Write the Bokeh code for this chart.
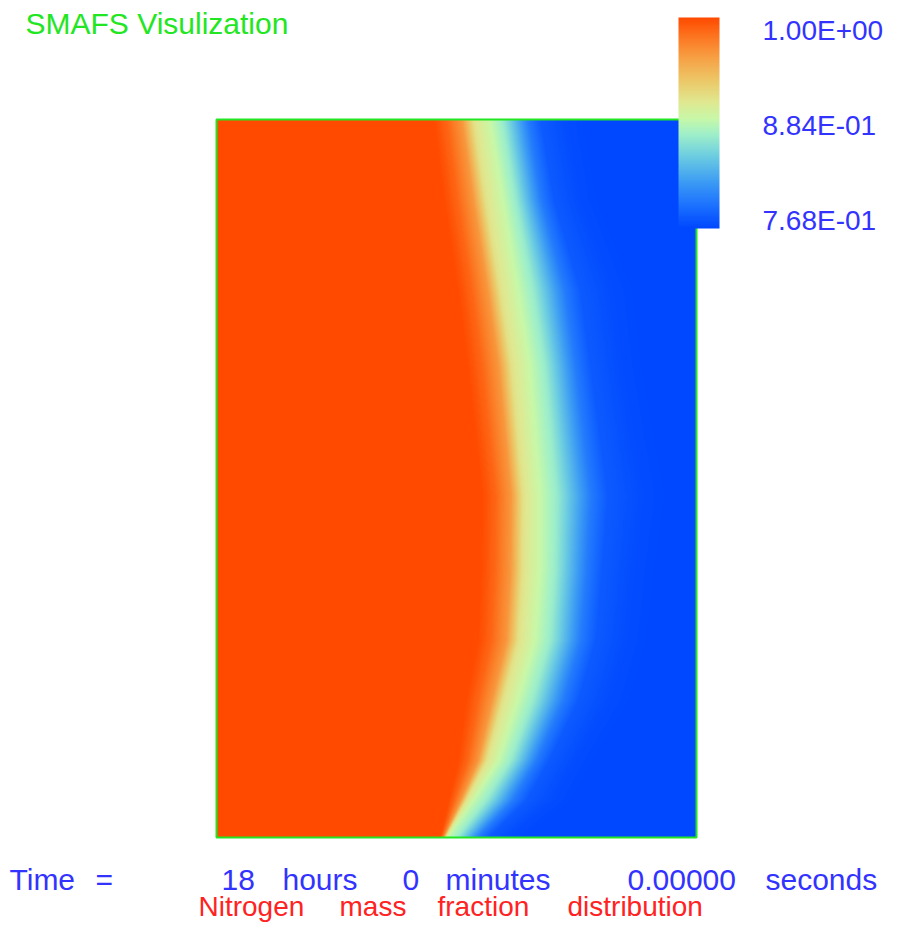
import numpy as np
from bokeh.plotting import figure
from bokeh.models import LinearColorMapper, Range1d
from bokeh.core.properties import value
from bokeh.embed import file_html
from bokeh.resources import INLINE

# ---------------- data ----------------
# domain: radius 0..1 (x), height 0..1.5 (y)
front_y = [0.000, 0.077, 0.161, 0.286, 0.412, 0.558, 0.714, 0.986, 1.143, 1.331, 1.500]
front_x = [0.481, 0.535, 0.588, 0.629, 0.665, 0.675, 0.675, 0.654, 0.629, 0.598, 0.571]
left_span = [0.015, 0.052, 0.085, 0.110, 0.121, 0.125, 0.122, 0.132, 0.127, 0.125, 0.119]
right_span = [0.085, 0.110, 0.105, 0.125, 0.125, 0.128, 0.140, 0.125, 0.129, 0.105, 0.104]
profile_s = [-1.0, -0.75, -0.5, -0.3, 0.0, 0.25, 0.5, 0.75, 1.0, 1.5, 2.0]
profile_v = [1.000, 0.985, 0.960, 0.912, 0.888, 0.868, 0.834, 0.800, 0.780, 0.771, 0.768]
v_min, v_max = 0.768, 1.0
tick_values = [1.0, 0.884, 0.768]
tick_labels = ["1.00E+00", "8.84E-01", "7.68E-01"]
title_text = "SMAFS  Visulization"
time_words = ["Time", "=", "18", "hours", "0", "minutes", "0.00000", "seconds"]
caption_words = ["Nitrogen", "mass", "fraction", "distribution"]

# ---------------- styles / layout ----------------
stops_t = [0.00, 0.10, 0.22, 0.35, 0.45, 0.52, 0.60, 0.70, 0.80, 0.90, 1.00]
stops_c = ["#0048FF", "#1A6EFF", "#3C9CF4", "#70D0E0", "#A0F0C8", "#C8F8A8",
           "#E0E890", "#ECC868", "#F6A448", "#FC7A24", "#FF4A00"]
GREEN = "#22E622"
BLUE = "#3333FF"
RED = "#FF2222"
FONT = value("Liberation Sans")

W, H = 887, 927          # canvas size (px)
FX0, FX1 = 216, 696      # field left/right (px)
FY0, FY1 = 837, 119      # field bottom/top (px)
sx = (FX1 - FX0) / 1.0
sy = (FY0 - FY1) / 1.5

def hex2rgb(h):
    return [int(h[i:i + 2], 16) for i in (1, 3, 5)]

rgb = np.array([hex2rgb(c) for c in stops_c], dtype=float)
tt = np.linspace(0, 1, 256)
palette = ["#%02x%02x%02x" % tuple(int(round(np.interp(t, stops_t, rgb[:, k]))) for k in range(3)) for t in tt]
mapper = LinearColorMapper(palette=palette, low=v_min, high=v_max)

# ---------------- field ----------------
nx, ny = 480, 718
xs = (np.arange(nx) + 0.5) / nx
ys = (np.arange(ny) + 0.5) / ny * 1.5
field = np.empty((ny, nx), dtype=np.float32)
for j, yy in enumerate(ys):
    fx = np.interp(yy, front_y, front_x)
    wl = np.interp(yy, front_y, left_span)
    wr = np.interp(yy, front_y, right_span)
    d = xs - fx
    s = np.where(d < 0, d / wl, d / wr)
    field[j, :] = np.interp(s, profile_s, profile_v)

# ---------------- figure ----------------
p = figure(width=W, height=H,
           x_range=Range1d(-FX0 / sx, (W - FX0) / sx),
           y_range=Range1d((FY0 - H) / sy, FY0 / sy),
           output_backend="svg", toolbar_location=None, min_border=0,
           x_axis_location=None, y_axis_location=None)
p.grid.visible = False
p.outline_line_color = None
p.background_fill_color = "white"
p.border_fill_color = "white"

k = (v_max - v_min) / 190.0   # colour-bar value per pixel (1.0 at y=30)
p.extra_x_ranges = {"px": Range1d(0, W)}
p.extra_y_ranges = {"py": Range1d(H, 0),
                    "cb": Range1d(1.0 - (H - 30) * k, 1.0 + 30 * k)}

p.image(image=[field], x=0, y=0, dw=1, dh=1.5, color_mapper=mapper)
p.quad(left=[0], right=[1], bottom=[0], top=[1.5], fill_color=None,
       line_color=GREEN, line_width=2)

# colour bar
bar = np.linspace(v_min, v_max, 256, dtype=np.float32).reshape(256, 1)
p.image(image=[bar], x=678, y=1.0 - 198 * k, dw=41, dh=211 * k,
        color_mapper=mapper, x_range_name="px", y_range_name="cb")
p.text(x=[762] * 3, y=tick_values, text=tick_labels, x_range_name="px",
       y_range_name="cb", text_font=FONT, text_font_size="28px",
       text_color=BLUE, text_baseline="middle", text_align="left")

# title
p.text(x=[25], y=[23], text=[title_text], x_range_name="px", y_range_name="py",
       text_font=FONT, text_font_size="30px", text_color=GREEN,
       text_baseline="middle", text_align="left")

# time line
time_x = [9, 95, 221, 282, 402, 445, 627, 765]
p.text(x=time_x, y=[879] * len(time_words), text=time_words, x_range_name="px",
       y_range_name="py", text_font=FONT, text_font_size="30px", text_color=BLUE,
       text_baseline="middle", text_align="left")

caption_x = [198, 339, 437, 567]
p.text(x=caption_x, y=[906] * len(caption_words), text=caption_words,
       x_range_name="px", y_range_name="py", text_font=FONT,
       text_font_size="28px", text_color=RED, text_baseline="middle",
       text_align="left")

open("out.html", "w").write(file_html(p, INLINE))
